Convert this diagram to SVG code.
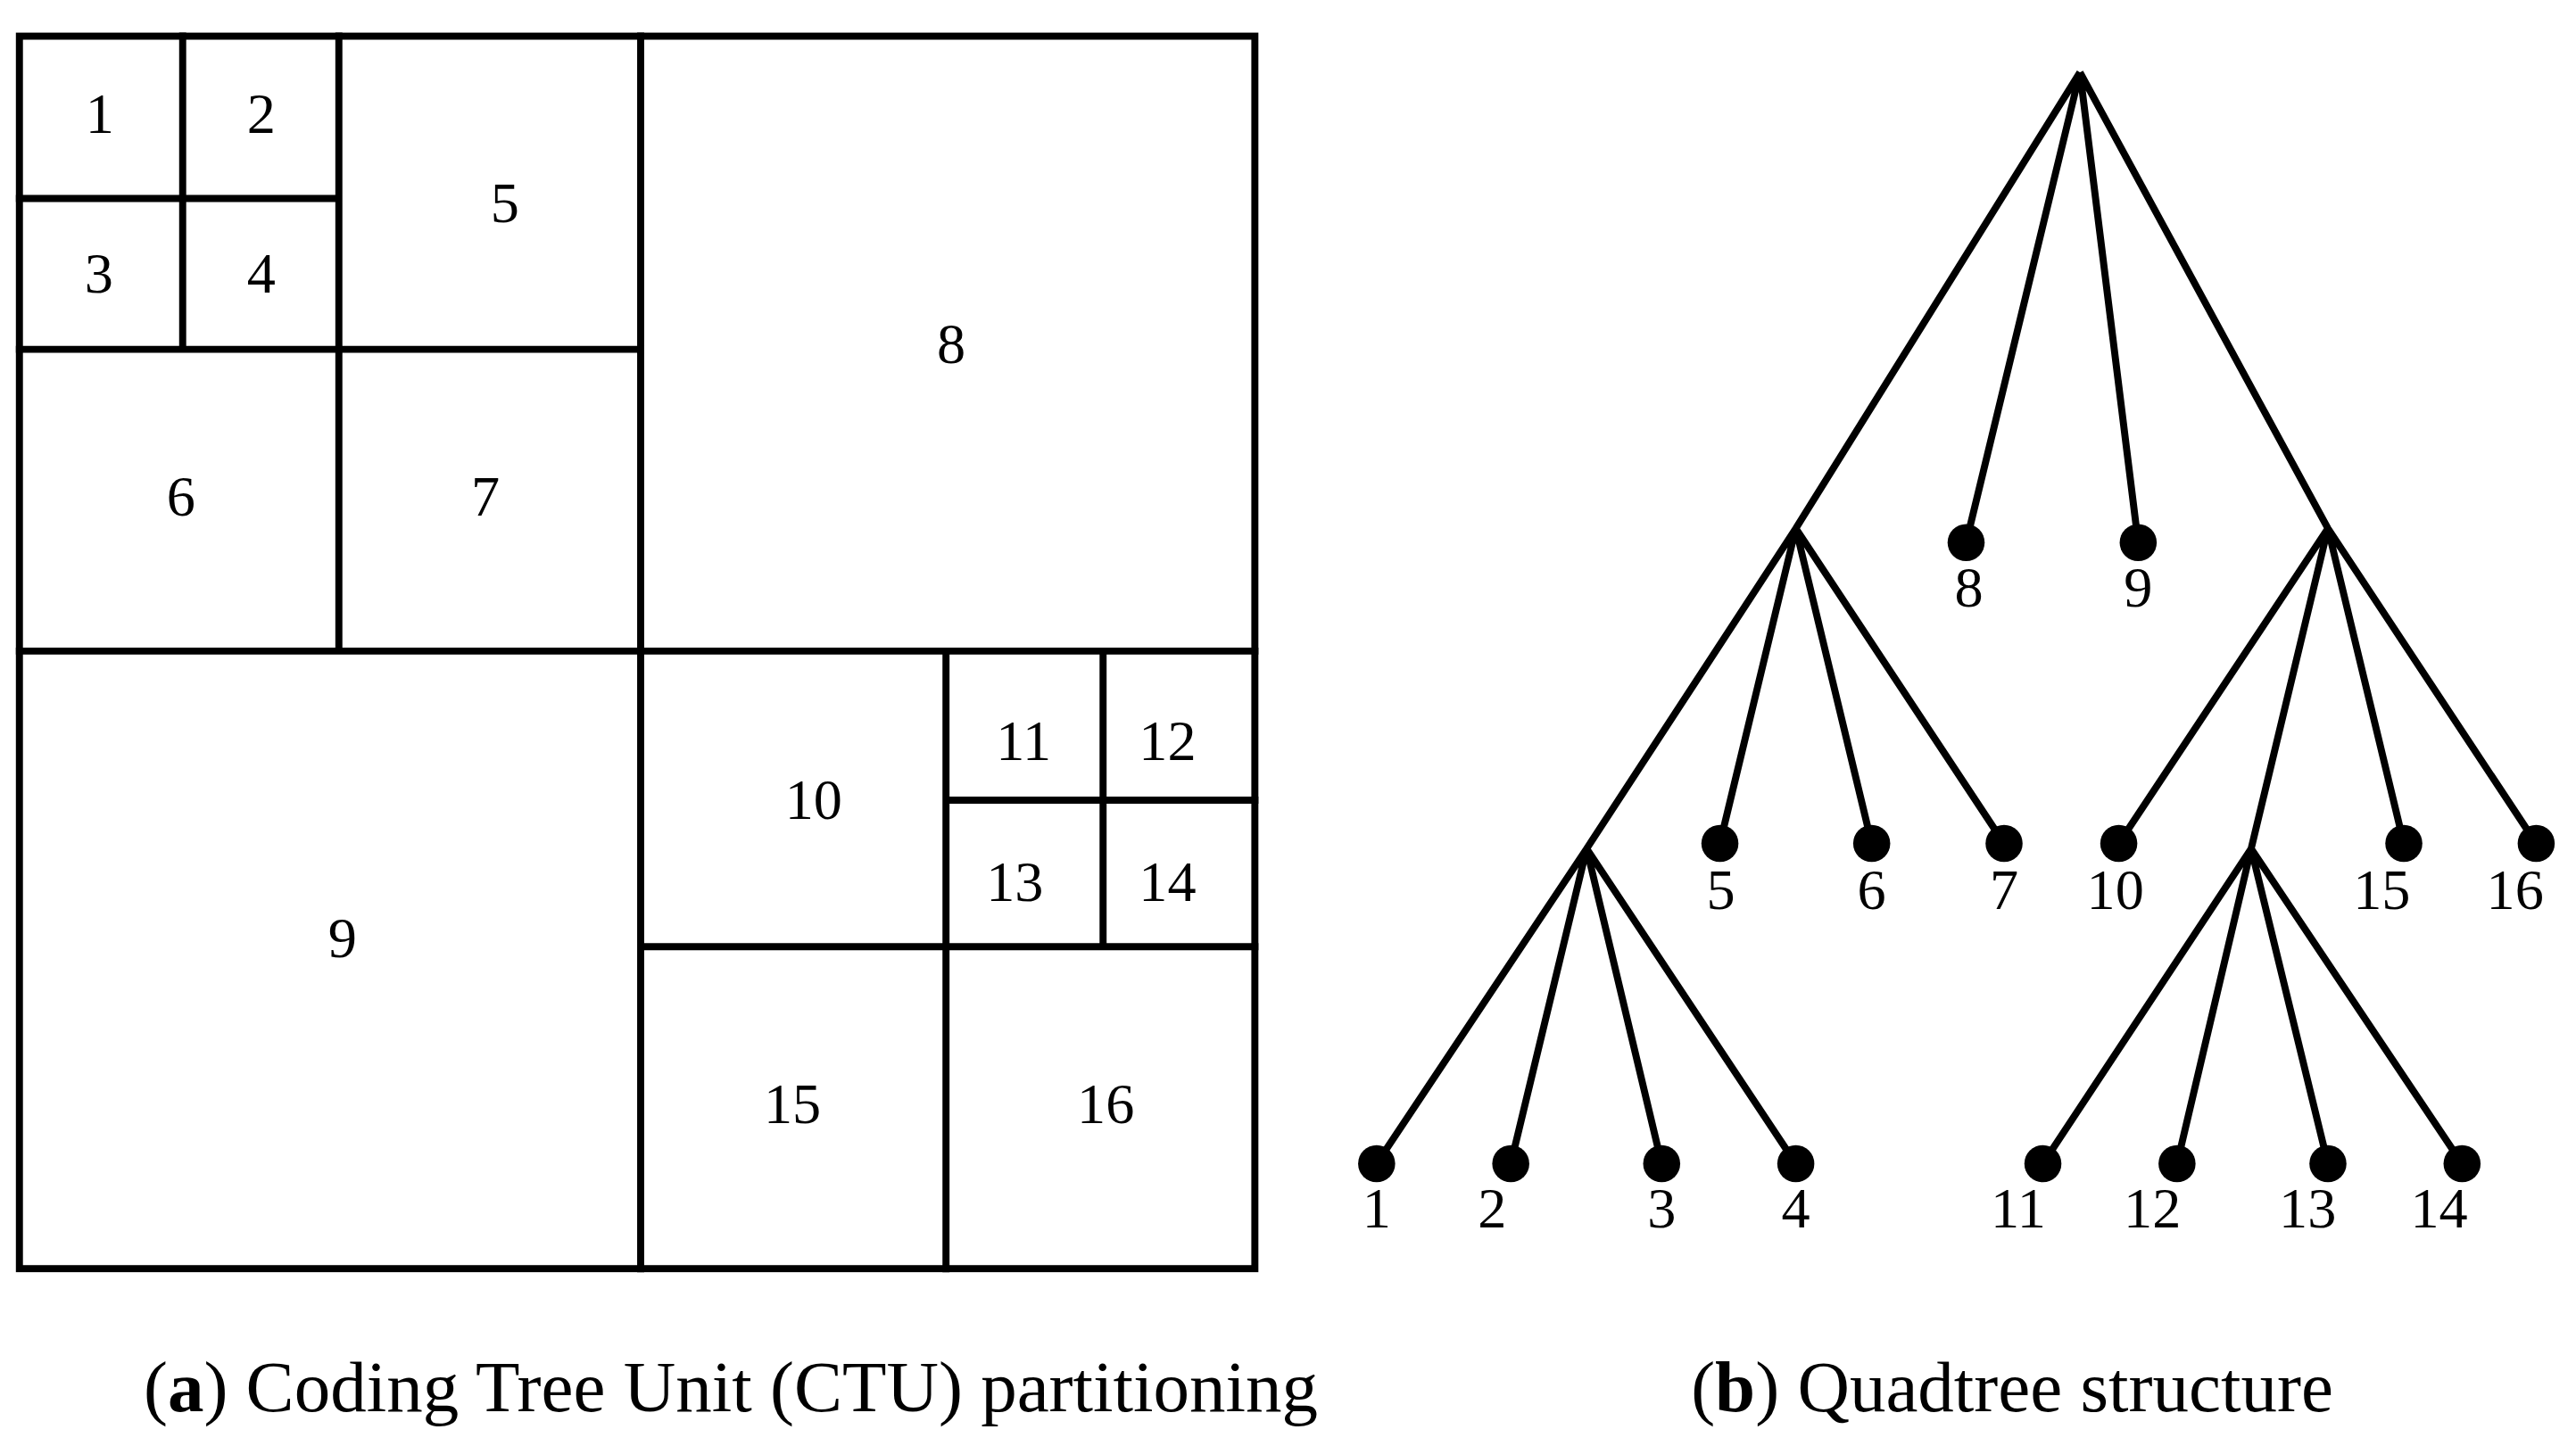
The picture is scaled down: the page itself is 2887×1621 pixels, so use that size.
<svg xmlns="http://www.w3.org/2000/svg" width="2887" height="1621" viewBox="0 0 2887 1621">
<style>
.l{stroke:#000;stroke-width:8;fill:none;stroke-linecap:square}
.e{stroke:#000;stroke-width:8;fill:none}
text{font-family:"Liberation Serif","DejaVu Serif",serif;font-size:65px;text-anchor:middle;fill:#000}
.c{font-size:81px}
circle{fill:#000}
</style>
<rect width="2887" height="1621" fill="#fff"/>
<g transform="scale(0.989)">
<g id="ctu">
<rect class="l" x="22" y="41" width="1400" height="1397"/>
<path class="l" d="M726 41V1438M22 738H1422M384 41V738M22 396H726M207 41V396M22 225H384M1072 738V1438M726 1073H1422M1250 738V1073M1072 907H1422"/>
<text x="113" y="151">1</text><text x="296" y="151">2</text>
<text x="112" y="332">3</text><text x="296" y="332">4</text>
<text x="572" y="252">5</text><text x="205" y="584">6</text><text x="550" y="584">7</text>
<text x="1078" y="412">8</text><text x="388" y="1085">9</text><text x="922" y="928">10</text>
<text x="1160" y="861">11</text><text x="1323" y="861">12</text><text x="1150" y="1021">13</text><text x="1323" y="1021">14</text>
<text x="898" y="1273">15</text><text x="1253" y="1273">16</text>
</g>
<g id="edges">
<path class="e" d="M2357 82L2035 599M2357 82L2228 615M2357 82L2423 615M2357 82L2638 599M2035 599L1798 962M2035 599L1949 956M2035 599L2121 956M2035 599L2271 956M2638 599L2401 956M2638 599L2551 962M2638 599L2724 956M2638 599L2874 956M1798 962L1560 1319M1798 962L1712 1319M1798 962L1883 1319M1798 962L2035 1319M2551 962L2315 1319M2551 962L2467 1319M2551 962L2638 1319M2551 962L2790 1319"/>
</g>
<g id="leaves">
<circle cx="2228" cy="615" r="21"/><circle cx="2423" cy="615" r="21"/>
<circle cx="1949" cy="956" r="21"/><circle cx="2121" cy="956" r="21"/><circle cx="2271" cy="956" r="21"/>
<circle cx="2401" cy="956" r="21"/><circle cx="2724" cy="956" r="21"/><circle cx="2874" cy="956" r="21"/>
<circle cx="1560" cy="1319" r="21"/><circle cx="1712" cy="1319" r="21"/><circle cx="1883" cy="1319" r="21"/><circle cx="2035" cy="1319" r="21"/>
<circle cx="2315" cy="1319" r="21"/><circle cx="2467" cy="1319" r="21"/><circle cx="2638" cy="1319" r="21"/><circle cx="2790" cy="1319" r="21"/>
<text x="2231" y="688">8</text><text x="2423" y="688">9</text>
<text x="1950" y="1030">5</text><text x="2121" y="1030">6</text><text x="2271" y="1030">7</text>
<text x="2397" y="1030">10</text><text x="2699" y="1030">15</text><text x="2850" y="1030">16</text>
<text x="1560" y="1391">1</text><text x="1691" y="1391">2</text><text x="1883" y="1391">3</text><text x="2035" y="1391">4</text>
<text x="2287" y="1391">11</text><text x="2439" y="1391">12</text><text x="2615" y="1391">13</text><text x="2764" y="1391">14</text>
</g>
</g>
<g id="captions">
<text class="c" x="819" y="1582">(<tspan font-weight="bold">a</tspan>) Coding Tree Unit (CTU) partitioning</text>
<text class="c" x="2255" y="1582">(<tspan font-weight="bold">b</tspan>) Quadtree structure</text>
</g>
</svg>
